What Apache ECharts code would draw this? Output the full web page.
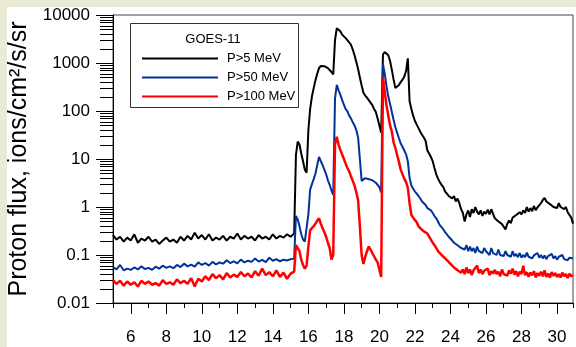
<!DOCTYPE html>
<html><head><meta charset="utf-8">
<script src="https://cdn.jsdelivr.net/npm/echarts@6.0.0/dist/echarts.min.js"></script>
<style>
html,body{margin:0;padding:0;width:576px;height:347px;overflow:hidden;background:#ebebd5;}
#c{position:absolute;left:7px;top:7px;width:569px;height:340px;background:#fff;}
</style></head><body><div id="c"></div>
<script>
// Day of month (x values)
const days = [
 5,5.2,5.4,5.6,5.8, 6,6.2,6.4,6.6,6.8, 7,7.2,7.4,7.6,7.8, 8,8.2,8.4,8.6,8.8, 9,9.2,9.4,9.6,9.8,
 10,10.2,10.4,10.6,10.8, 11,11.2,11.4,11.6,11.8, 12,12.2,12.4,12.6,12.8, 13,13.2,13.4,13.6,13.8, 14,14.2,14.4,14.6,14.8, 15,
 15.1,15.2,15.3,15.4,15.5,15.6,15.7,15.8,15.9,16,
 16.1,16.2,16.3,16.4,16.5,16.6,16.7,16.8,16.9,17,
 17.1,17.2,17.3,17.4,17.5,17.6,17.7,17.8,17.9,18,
 18.1,18.2,18.3,18.4,18.5,18.6,18.7,18.8,18.9,19,
 19.1,19.2,19.3,19.4,19.5,19.6,19.7,19.8,19.9,20,
 20.1,20.2,20.3,20.4,20.5,20.6,20.7,20.8,20.9,21,
 21.1,21.2,21.3,21.4,21.5,21.6,21.7,21.8,21.9,22,
 22.1,22.2,22.3,22.4,22.5,22.6,22.7,22.8,22.9,23,
 23.1,23.2,23.3,23.4,23.5,23.6,23.7,23.8,23.9,24,
 24.1,24.2,24.3,24.4,24.5,24.6,24.7,24.8,24.9,25,
 25.1,25.2,25.3,25.4,25.5,25.6,25.7,25.8,25.9,26,
 26.1,26.2,26.3,26.4,26.5,26.6,26.7,26.8,26.9,27,
 27.1,27.2,27.3,27.4,27.5,27.6,27.7,27.8,27.9,28,
 28.1,28.2,28.3,28.4,28.5,28.6,28.7,28.8,28.9,29,
 29.1,29.2,29.3,29.4,29.5,29.6,29.7,29.8,29.9,30,
 30.1,30.2,30.3,30.4,30.5,30.6,30.7,30.8,30.9
];
// P>5 MeV
const p5 = [
 0.26,0.21,0.24,0.19,0.23, 0.20,0.27,0.18,0.22,0.20, 0.24,0.19,0.21,0.17,0.20, 0.23,0.19,0.21,0.18,0.24, 0.20,0.25,0.21,0.29,0.22,
 0.26,0.21,0.27,0.20,0.23, 0.21,0.25,0.20,0.24,0.22, 0.28,0.21,0.25,0.22,0.24, 0.20,0.26,0.22,0.24,0.21, 0.27,0.22,0.25,0.23,0.27, 0.24,
 0.24,0.28,12,23,20,13,9,6,5.2,40,
 110,200,300,440,600,780,870,920,860,880,
 780,760,650,580,3000,5300,5000,4600,3900,3700,
 3300,3000,2700,2400,1900,1450,1050,750,500,340,
 240,210,190,180,150,133,110,95,70,50,
 35,1500,1700,1550,1450,1100,720,450,300,330,
 350,400,450,520,680,1250,160,110,80,62,
 52,44,37,32,28,24,15,13,11,9,
 6.5,4.8,3.9,3.3,2.9,2.6,2.1,1.9,1.7,1.6,
 1.5,1.7,1.3,1.5,1.2,0.9,0.75,0.5,0.7,0.85,
 0.62,0.9,0.75,1.0,0.8,0.7,0.85,0.65,0.8,0.72,
 0.88,0.7,0.9,0.72,0.58,0.62,0.5,0.55,0.44,0.48,
 0.34,0.45,0.52,0.46,0.6,0.55,0.68,0.62,0.78,0.7,
 0.85,0.75,1.0,0.8,0.95,0.82,1.05,0.86,0.98,0.9,
 1.2,1.4,1.55,1.3,1.35,1.15,1.2,1.0,1.1,0.95,
 1.2,1.0,1.05,0.9,1.0,0.78,0.72,0.6,0.45
];
// P>50 MeV
const p50 = [
 0.056,0.050,0.062,0.048,0.052, 0.049,0.055,0.050,0.058,0.051, 0.054,0.049,0.057,0.052,0.060, 0.054,0.058,0.053,0.062,0.056, 0.066,0.058,0.063,0.057,0.070,
 0.062,0.068,0.060,0.072,0.064, 0.070,0.066,0.078,0.068,0.074, 0.067,0.080,0.070,0.076,0.072, 0.085,0.073,0.079,0.071,0.088, 0.076,0.082,0.074,0.080,0.077, 0.082,
 0.078,0.084,0.65,0.55,0.40,0.27,0.21,0.19,0.20,0.7,
 2.3,3.0,3.8,5.0,7.5,11,9.0,7.5,6.0,4.8,
 3.6,2.9,2.2,1.8,180,350,270,220,170,135,
 110,98,80,70,58,50,40,28,10,3.5,
 3.2,4.0,4.4,3.8,4.0,3.6,3.7,3.2,3.0,2.6,
 2.0,950,600,330,200,140,95,65,46,35,
 27,21,18,15,12.5,9,4,2.8,2.4,2.1,
 1.9,1.7,1.5,1.3,1.2,1.1,0.95,0.9,0.85,0.75,
 0.65,0.58,0.5,0.42,0.38,0.34,0.3,0.27,0.24,0.22,
 0.2,0.18,0.19,0.16,0.17,0.14,0.15,0.13,0.16,0.12,
 0.15,0.12,0.14,0.11,0.15,0.12,0.13,0.11,0.14,0.12,
 0.13,0.10,0.14,0.11,0.12,0.10,0.13,0.10,0.11,0.095,
 0.12,0.10,0.11,0.092,0.12,0.095,0.105,0.09,0.11,0.088,
 0.10,0.09,0.112,0.092,0.1,0.085,0.098,0.09,0.11,0.088,
 0.1,0.085,0.098,0.082,0.095,0.088,0.105,0.085,0.095,0.08,
 0.092,0.085,0.1,0.082,0.09,0.078,0.088,0.08,0.085
];
// P>100 MeV
const p100 = [
 0.030,0.025,0.029,0.023,0.028, 0.024,0.027,0.022,0.029,0.025, 0.028,0.024,0.026,0.023,0.030, 0.025,0.027,0.024,0.031,0.026, 0.029,0.025,0.033,0.022,0.032,
 0.028,0.036,0.030,0.040,0.033, 0.038,0.031,0.042,0.034,0.039, 0.035,0.044,0.036,0.041,0.034, 0.046,0.037,0.052,0.038,0.044, 0.036,0.048,0.035,0.043,0.032, 0.041,
 0.038,0.045,0.16,0.15,0.12,0.08,0.062,0.052,0.06,0.15,
 0.33,0.35,0.40,0.45,0.52,0.58,0.45,0.36,0.30,0.24,
 0.18,0.14,0.08,0.1,20,29,20,15.5,12.5,10,
 8,6.5,5.5,4.3,3.5,2.8,2.0,1.4,0.4,0.1,
 0.065,0.09,0.12,0.15,0.13,0.11,0.12,0.08,0.07,0.065,
 0.035,500,250,130,80,50,37,22,17,12,
 8.7,6.0,4.8,3.9,3.3,2.5,1.2,0.68,0.6,0.55,
 0.48,0.40,0.36,0.33,0.31,0.29,0.28,0.26,0.21,0.18,
 0.16,0.14,0.12,0.115,0.10,0.092,0.085,0.078,0.072,0.065,
 0.06,0.055,0.058,0.048,0.052,0.043,0.05,0.04,0.055,0.042,
 0.05,0.038,0.048,0.044,0.06,0.042,0.05,0.04,0.047,0.043,
 0.052,0.038,0.046,0.041,0.049,0.04,0.045,0.036,0.05,0.04,
 0.044,0.037,0.048,0.041,0.052,0.039,0.046,0.036,0.045,0.04,
 0.06,0.038,0.044,0.035,0.043,0.038,0.046,0.034,0.042,0.037,
 0.045,0.036,0.048,0.035,0.041,0.034,0.044,0.037,0.042,0.035,
 0.04,0.034,0.043,0.036,0.04,0.033,0.041,0.036,0.038
];
const seriesNames = ['P>5 MeV', 'P>50 MeV', 'P>100 MeV'];
const legendTitle = 'GOES-11';
const yTitle = 'Proton flux, ions/cm\u00B2/s/sr';
const xMajorTicks = [6,8,10,12,14,16,18,20,22,24,26,28,30];
const yMinorTicks = [
 0.02,0.03,0.04,0.05,0.06,0.07,0.08,0.09,
 0.2,0.3,0.4,0.5,0.6,0.7,0.8,0.9,
 2,3,4,5,6,7,8,9,
 20,30,40,50,60,70,80,90,
 200,300,400,500,600,700,800,900,
 2000,3000,4000,5000,6000,7000,8000,9000
];
const X_MIN = 5, X_MAX = 30.9, Y_MIN = 0.01, Y_MAX = 10000;

const FONT = '"Liberation Sans", Arial, Helvetica, sans-serif';
const zip = vals => days.map((d, i) => [d, vals[i]]);
const chart = echarts.init(document.getElementById('c'), null, { renderer: 'canvas' });

const option = {
  animation: false,
  backgroundColor: 'transparent',
  grid: { left: 106, top: 8, width: 460, height: 288, show: true, borderColor: '#444', borderWidth: 1,
          backgroundColor: 'transparent', containLabel: false, outerBoundsMode: 'none' },
  xAxis: [
    {
      type: 'value', min: X_MIN, max: X_MAX, interval: 1,
      axisLine: { show: true, onZero: false, lineStyle: { color: '#000', width: 1 } },
      axisTick: { show: true, length: 5, lineStyle: { color: '#000', width: 1 } },
      axisLabel: { margin: 26, fontSize: 17, color: '#000', fontFamily: FONT,
        formatter: v => (Math.abs(v % 2) < 1e-9 && v >= 6 ? String(v) : '') },
      splitLine: { show: false }
    },
    {
      type: 'value', min: X_MIN, max: X_MAX, position: 'bottom',
      axisLine: { show: false, onZero: false },
      axisTick: { show: true, length: 11, customValues: xMajorTicks, lineStyle: { color: '#000', width: 1 } },
      axisLabel: { show: false },
      splitLine: { show: false }
    }
  ],
  yAxis: {
    type: 'log', logBase: 10, min: Y_MIN, max: Y_MAX,
    axisLine: { show: true, onZero: false, lineStyle: { color: '#000', width: 1 } },
    axisTick: { show: true, length: 17, lineStyle: { color: '#000', width: 1 } },
    axisLabel: { margin: 23, fontSize: 17, color: '#000', fontFamily: FONT, formatter: v => String(v) },
    splitLine: { show: false },
    name: yTitle, nameLocation: 'middle', nameGap: 76,
    nameTextStyle: { fontSize: 25, color: '#000', fontFamily: FONT }
  },
  legend: {
    data: seriesNames, orient: 'vertical', left: 130, top: 39,
    icon: 'rect', itemWidth: 76, itemHeight: 2, itemGap: 4, selectedMode: false,
    textStyle: { fontSize: 13, lineHeight: 15, color: '#000', fontFamily: FONT, padding: [0, 0, 0, 4] }
  },
  graphic: [
    { type: 'rect', shape: { x: 123.5, y: 16.5, width: 168, height: 84 }, style: { fill: 'none', stroke: '#333', lineWidth: 1 }, z: 10 },
    { type: 'text', x: 206, y: 32, style: { text: legendTitle, fill: '#000', font: '13px ' + FONT, align: 'center', verticalAlign: 'middle' }, z: 10 }
  ],
  series: [
    { name: seriesNames[0], type: 'line', data: zip(p5), symbol: 'none', showSymbol: false,
      lineStyle: { color: '#000000', width: 2 }, itemStyle: { color: '#000000' }, z: 2 },
    { name: seriesNames[1], type: 'line', data: zip(p50), symbol: 'none', showSymbol: false,
      lineStyle: { color: '#003399', width: 2 }, itemStyle: { color: '#003399' }, z: 3 },
    { name: seriesNames[2], type: 'line', data: zip(p100), symbol: 'none', showSymbol: false,
      lineStyle: { color: '#ff0000', width: 2.5 }, itemStyle: { color: '#ff0000' }, z: 4 },
    { name: 'yMinorTicks', type: 'custom', silent: true, clip: false,
      data: yMinorTicks.map(v => [X_MIN, v]),
      renderItem: (params, api) => {
        const p = api.coord([api.value(0), api.value(1)]);
        const y = Math.round(p[1]) + 0.5;
        return { type: 'line', shape: { x1: p[0] - 13, y1: y, x2: p[0], y2: y },
                 style: { stroke: '#000', lineWidth: 1 } };
      }
    }
  ]
};
chart.setOption(option);
</script></body></html>
